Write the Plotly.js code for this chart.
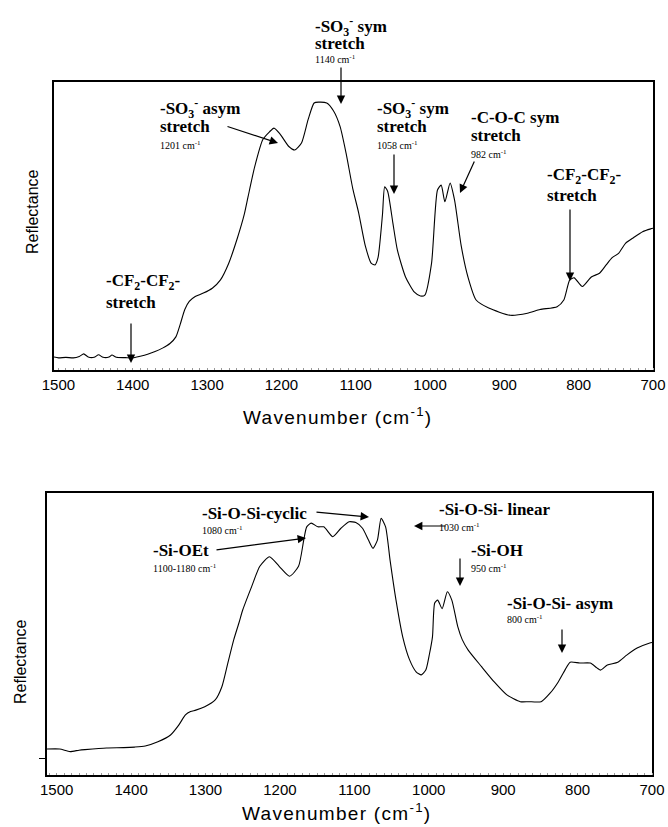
<!DOCTYPE html>
<html>
<head>
<meta charset="utf-8">
<script src="https://cdn.plot.ly/plotly-3.0.1.min.js"></script>
<style>
  html, body { margin: 0; padding: 0; background: #fff; }
  #chart { width: 668px; height: 827px; }
</style>
</head>
<body>
<div id="chart"></div>
<script>
// ---------- data ----------
const tickValues = [1500, 1400, 1300, 1200, 1100, 1000, 900, 800, 700];
const tickLabels = ["1500", "1400", "1300", "1200", "1100", "1000", "900", "800", "700"];
const xTitle = "Wavenumber (cm<sup>-1</sup>)";
const yTitle = "Reflectance";

// upper spectrum
const topWavenumber = [1506,1500,1490,1480,1472,1466,1460,1452,1446,1440,1432,1428,1422,1410,1400,
  1390,1380,1370,1360,1350,1342,1336,1330,1324,1316,1305,1293,1282,1271,1259,1250,1245,1236,1225,
  1216,1210,1202,1190,1182,1173,1164,1156,1150,1139,1130,1121,1113,1104,1096,1087,1079,1074,1070,
  1064,1061,1057,1050,1044,1033,1021,1013,1007,998,990,985,980,973,967,958,949,938,921,892,869,852,
  829,820,812,806,795,783,772,763,755,746,737,726,714,703,700];
const topReflectance = [0.045,0.042,0.044,0.042,0.047,0.056,0.045,0.044,0.053,0.044,0.045,0.052,0.044,0.043,0.042,
  0.048,0.055,0.064,0.076,0.092,0.115,0.16,0.21,0.238,0.255,0.267,0.284,0.313,0.37,0.46,0.54,0.6,0.705,0.80,
  0.827,0.84,0.82,0.776,0.764,0.788,0.87,0.927,0.93,0.927,0.90,0.845,0.753,0.63,0.545,0.43,0.37,0.365,0.39,
  0.54,0.636,0.62,0.51,0.417,0.323,0.27,0.257,0.26,0.37,0.625,0.642,0.584,0.649,0.59,0.43,0.323,0.243,0.215,0.19,0.197,0.21,
  0.22,0.243,0.313,0.32,0.29,0.323,0.336,0.365,0.39,0.406,0.44,0.46,0.48,0.49,0.492];

// lower spectrum
const bottomWavenumber = [1513,1496,1482,1470,1462,1433,1410,1395,1381,1364,1347,1336,1327,1320,1313,1301,
  1287,1278,1270,1262,1255,1250,1238,1227,1214,1201,1187,1175,1168,1164,1158,1149,1141,1129,1118,1107,
  1098,1089,1081,1075,1069,1064,1058,1052,1044,1035,1026,1017,1010,1004,999,995,992,988,982,975,969,961,
  955,947,929,912,895,877,866,849,837,826,817,810,797,783,774,769,760,746,734,720,703,700];
const bottomReflectance = [0.092,0.092,0.083,0.088,0.090,0.096,0.097,0.099,0.103,0.118,0.142,0.177,0.213,0.225,0.23,0.242,
  0.266,0.313,0.397,0.48,0.54,0.585,0.668,0.74,0.774,0.74,0.705,0.74,0.833,0.88,0.893,0.88,0.88,0.845,0.875,0.898,
  0.895,0.875,0.833,0.804,0.833,0.91,0.88,0.762,0.62,0.49,0.41,0.366,0.355,0.372,0.43,0.49,0.61,0.62,0.59,0.65,0.62,0.526,
  0.48,0.443,0.384,0.33,0.284,0.26,0.26,0.26,0.29,0.33,0.372,0.40,0.397,0.397,0.38,0.372,0.39,0.40,0.425,0.45,0.468,0.47];

// band labels
const topBands = [
  {title: ["-SO<sub>3</sub><sup>-</sup> sym", "stretch"], note: "1140 cm<sup>-1</sup>"},
  {title: ["-SO<sub>3</sub><sup>-</sup> asym", "stretch"], note: "1201 cm<sup>-1</sup>"},
  {title: ["-SO<sub>3</sub><sup>-</sup> sym", "stretch"], note: "1058 cm<sup>-1</sup>"},
  {title: ["-C-O-C sym", "stretch"], note: "982 cm<sup>-1</sup>"},
  {title: ["-CF<sub>2</sub>-CF<sub>2</sub>-", "stretch"], note: ""},
  {title: ["-CF<sub>2</sub>-CF<sub>2</sub>-", "stretch"], note: ""}
];
const bottomBands = [
  {title: ["-Si-O-Si-cyclic"], note: "1080 cm<sup>-1</sup>"},
  {title: ["-Si-OEt"], note: "1100-1180 cm<sup>-1</sup>"},
  {title: ["-Si-O-Si- linear"], note: "1030 cm<sup>-1</sup>"},
  {title: ["-Si-OH"], note: "950 cm<sup>-1</sup>"},
  {title: ["-Si-O-Si- asym"], note: "800 cm<sup>-1</sup>"}
];

// ---------- layout helpers (page pixel -> paper) ----------
const W = 668, H = 827;
const px = x => x / W;
const py = y => 1 - y / H;

const topPlace = [
  {x: 313, lines: [27, 44], note: 59},
  {x: 158, lines: [108, 127], note: 145},
  {x: 375, lines: [108, 127], note: 145},
  {x: 469, lines: [117, 136], note: 154},
  {x: 545, lines: [176, 195], note: null},
  {x: 104, lines: [282, 302], note: null}
];
const topArrows = [
  [341, 66, 341, 104], [226, 126, 278, 143], [394, 153, 394, 194],
  [475, 160, 460, 193], [570, 208, 570, 281], [131, 322, 131, 363]
];
const bottomPlace = [
  {x: 200, lines: [513], note: 530},
  {x: 151, lines: [550], note: 568},
  {x: 437, lines: [510], note: 527},
  {x: 469, lines: [550], note: 568},
  {x: 505, lines: [603], note: 619}
];
const bottomArrows = [
  [315, 512, 369, 517], [215, 550, 306, 538], [447, 526, 414, 526],
  [460, 557, 460, 586], [562, 628, 562, 653]
];

const serif = 'Liberation Serif, Times New Roman, serif';
const sansFont = 'Liberation Sans, Arial, Helvetica, sans-serif';
const annotations = [];
function addBands(bands, places, arrows) {
  bands.forEach((b, i) => {
    const p = places[i];
    b.title.forEach((t, k) => {
      annotations.push({
        xref: 'paper', yref: 'paper', x: px(p.x), y: py(p.lines[k]),
        xanchor: 'left', yanchor: 'middle', showarrow: false,
        text: '<b>' + t + '</b>',
        font: {family: serif, size: 17, color: '#000'}
      });
    });
    if (b.note && p.note !== null) {
      annotations.push({
        xref: 'paper', yref: 'paper', x: px(p.x), y: py(p.note),
        xanchor: 'left', yanchor: 'middle', showarrow: false,
        text: b.note,
        font: {family: serif, size: 10, color: '#000'}
      });
    }
  });
  arrows.forEach(a => {
    annotations.push({
      xref: 'paper', yref: 'paper', x: px(a[2]), y: py(a[3]),
      ax: a[0] - a[2], ay: a[1] - a[3], axref: 'pixel', ayref: 'pixel',
      text: '', showarrow: true, arrowhead: 2, arrowsize: 1.4, arrowwidth: 1.2,
      arrowcolor: '#000', standoff: 0, startstandoff: 0
    });
  });
}
addBands(topBands, topPlace, topArrows);
addBands(bottomBands, bottomPlace, bottomArrows);

// axis titles (placed as in the reference, slightly off-centre)
function addXTitle(cx, cy) {
  annotations.push({
    xref: 'paper', yref: 'paper', x: px(cx), y: py(cy), xanchor: 'center', yanchor: 'middle',
    showarrow: false, text: '<span style="letter-spacing:1.3px">' + xTitle + '</span>',
    font: {family: sansFont, size: 19, color: '#000'}
  });
}
function addYTitle(cx, cy) {
  annotations.push({
    xref: 'paper', yref: 'paper', x: px(cx), y: py(cy), xanchor: 'center', yanchor: 'middle',
    showarrow: false, textangle: -90, text: yTitle,
    font: {family: sansFont, size: 16, color: '#000'}
  });
}
addXTitle(338, 416);
addXTitle(337, 812);
addYTitle(32, 212);
addYTitle(20, 662);

const xCommon = {
  tickmode: 'array', tickvals: tickValues, ticktext: tickLabels,
  showline: true, linecolor: '#000', linewidth: 1.6, mirror: true,
  showgrid: false, zeroline: false, ticks: '',
  minor: {ticks: 'inside', dtick: 10, ticklen: 2, tickcolor: '#999', showgrid: false},
  tickfont: {family: sansFont, size: 15, color: '#000'}
};
const yCommon = {
  range: [0, 1], showticklabels: false, showgrid: false, zeroline: false,
  showline: true, linecolor: '#000', linewidth: 1.6, mirror: true
};

const layout = {
  width: W, height: H,
  margin: {l: 0, r: 0, t: 0, b: 0},
  paper_bgcolor: '#fff', plot_bgcolor: '#fff',
  showlegend: false,
  xaxis: Object.assign({}, xCommon, {domain: [px(54), px(653)], range: [1506, 700], anchor: 'y'}),
  yaxis: Object.assign({}, yCommon, {domain: [py(370), py(82)], anchor: 'x', ticks: ''}),
  xaxis2: Object.assign({}, xCommon, {domain: [px(47), px(652)], range: [1513, 700], anchor: 'y2'}),
  yaxis2: Object.assign({}, yCommon, {domain: [py(775), py(493)], anchor: 'x2',
    ticks: 'outside', tickvals: [0.06], ticklen: 6, tickcolor: '#000'}),
  annotations: annotations
};

const traces = [
  {x: topWavenumber, y: topReflectance, xaxis: 'x', yaxis: 'y', type: 'scatter', mode: 'lines',
   line: {color: '#000', width: 1.1, shape: 'spline', smoothing: 0.6}, hoverinfo: 'skip'},
  {x: bottomWavenumber, y: bottomReflectance, xaxis: 'x2', yaxis: 'y2', type: 'scatter', mode: 'lines',
   line: {color: '#000', width: 1.1, shape: 'spline', smoothing: 0.6}, hoverinfo: 'skip'}
];

Plotly.newPlot('chart', traces, layout, {staticPlot: true, displayModeBar: false});
</script>
</body>
</html>
